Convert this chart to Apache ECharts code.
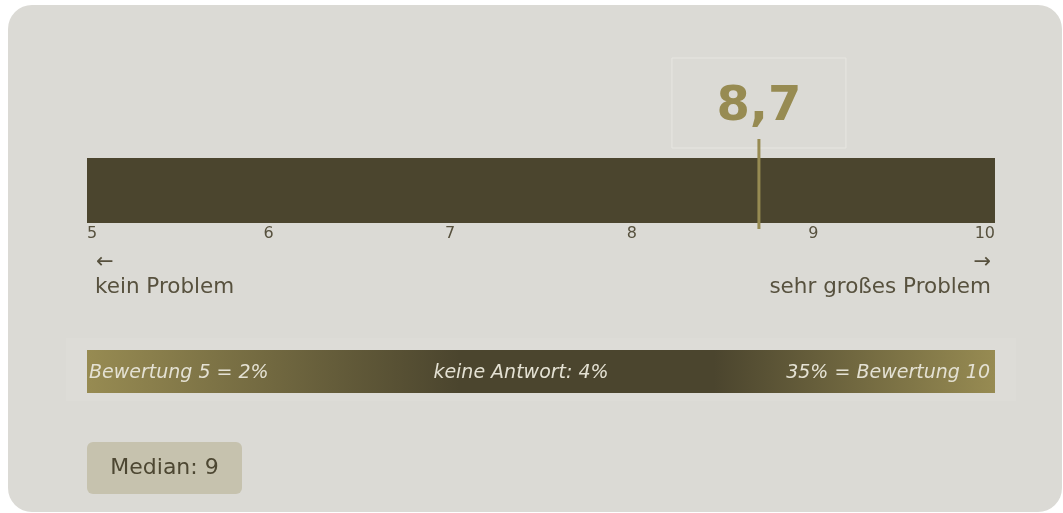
<!DOCTYPE html>
<html>
<head>
<meta charset="utf-8">
<script src="https://cdn.jsdelivr.net/npm/echarts@6/dist/echarts.min.js"></script>
<style>
html,body{margin:0;padding:0;background:#ffffff;}
#chart{width:1063px;height:513px;}
</style>
</head>
<body>
<div id="chart"></div>
<script>
// ---- data ----
const axisMin = 5;
const axisMax = 10;
const axisInterval = 1;
const meanValue = 8.7;
const meanLabel = '8,7';
const medianValue = 9;
const endLabels = ['kein Problem', 'sehr großes Problem'];
const endArrows = ['←', '→'];
const distLabels = ['Bewertung 5 = {v}%', 'keine Antwort: {v}%', '{v}% = Bewertung 10'];
const distValues = [2, 4, 35];

// ---- styles ----
const FONT = '"DejaVu Sans", Verdana, sans-serif';
const C_PANEL = '#dbdad5';
const C_BAR = '#4b452e';
const C_ACCENT = '#978b52';
const C_TEXT = '#57513e';

const chart = echarts.init(document.getElementById('chart'), null, {renderer: 'canvas'});

const gridL = 87, gridW = 908, gridT = 158, gridH = 65;

const distText = distLabels.map((t, i) => t.replace('{v}', distValues[i]));

const option = {
  animation: false,
  backgroundColor: 'transparent',
  grid: {
    left: gridL, top: gridT, width: gridW, height: gridH,
    show: true, backgroundColor: C_BAR, borderWidth: 0, z: 2
  },
  xAxis: {
    type: 'value', min: axisMin, max: axisMax, interval: axisInterval,
    axisLine: {show: false}, axisTick: {show: false},
    axisLabel: {
      color: C_TEXT, fontFamily: FONT, fontSize: 16, margin: 3,
      alignMinLabel: 'left', alignMaxLabel: 'right'
    },
    splitLine: {show: true, showMinLine: false, showMaxLine: false,
      lineStyle: {color: '#838070', width: 1}}
  },
  yAxis: {type: 'value', min: 0, max: 1, show: false},
  graphic: [
    {type: 'rect', z: -10, silent: true,
      shape: {x: 8, y: 5, width: 1054, height: 507, r: 24},
      style: {fill: C_PANEL}},
    // end labels
    {type: 'text', z: 5, style: {text: endArrows[0], x: 96, y: 263, font: '21px ' + FONT, fill: C_TEXT, textAlign: 'left', textVerticalAlign: 'middle'}},
    {type: 'text', z: 5, style: {text: endLabels[0], x: 95, y: 287, font: '21.5px ' + FONT, fill: C_TEXT, textAlign: 'left', textVerticalAlign: 'middle'}},
    {type: 'text', z: 5, style: {text: endArrows[1], x: 991, y: 263, font: '21px ' + FONT, fill: C_TEXT, textAlign: 'right', textVerticalAlign: 'middle'}},
    {type: 'text', z: 5, style: {text: endLabels[1], x: 991, y: 287, font: '21.5px ' + FONT, fill: C_TEXT, textAlign: 'right', textVerticalAlign: 'middle'}},
    // distribution band
    {type: 'rect', z: 1, silent: true,
      shape: {x: 66, y: 338, width: 950, height: 63},
      style: {fill: '#dddcd7'}},
    {type: 'rect', z: 2, silent: true,
      shape: {x: gridL, y: 350, width: gridW, height: 43},
      style: {fill: new echarts.graphic.LinearGradient(0, 0, 1, 0, [
        {offset: 0, color: C_ACCENT},
        {offset: 0.41, color: C_BAR},
        {offset: 0.69, color: C_BAR},
        {offset: 1, color: C_ACCENT}
      ])}},
    {type: 'text', z: 5, style: {text: distText[0], x: 89, y: 373, font: 'italic 19px ' + FONT, fill: '#e4e1d3', textAlign: 'left', textVerticalAlign: 'middle'}},
    {type: 'text', z: 5, style: {text: distText[1], x: 521, y: 373, font: 'italic 19px ' + FONT, fill: '#e4e1d3', textAlign: 'center', textVerticalAlign: 'middle'}},
    {type: 'text', z: 5, style: {text: distText[2], x: 990, y: 373, font: 'italic 19px ' + FONT, fill: '#e4e1d3', textAlign: 'right', textVerticalAlign: 'middle'}},
    // median box
    {type: 'rect', z: 2, shape: {x: 87, y: 442, width: 155, height: 52, r: 6}, style: {fill: '#c6c2ae'}},
    {type: 'text', z: 5, style: {text: 'Median: ' + medianValue, x: 164.5, y: 468, font: '22px ' + FONT, fill: '#4d4732', textAlign: 'center', textVerticalAlign: 'middle'}}
  ],
  series: [{
    type: 'custom',
    z: 10,
    clip: false,
    data: [[meanValue]],
    renderItem: function (params, api) {
      const p0 = api.coord([api.value(0), 0]);
      const p1 = api.coord([api.value(0), 1]);
      const x = p0[0];
      return {
        type: 'group',
        children: [
          {type: 'rect', shape: {x: x - 87, y: 58, width: 174, height: 90},
            style: {fill: 'rgba(0,0,0,0)', stroke: '#e7e6e1', lineWidth: 1}},
          {type: 'text', style: {text: meanLabel, x: x, y: 108, font: 'bold 48px ' + FONT,
            fill: C_ACCENT, textAlign: 'center', textVerticalAlign: 'middle'}},
          {type: 'rect', shape: {x: x - 1.5, y: p1[1] - 19, width: 3, height: (p0[1] - p1[1]) + 25},
            style: {fill: C_ACCENT}}
        ]
      };
    }
  }]
};
chart.setOption(option);
</script>
</body>
</html>
